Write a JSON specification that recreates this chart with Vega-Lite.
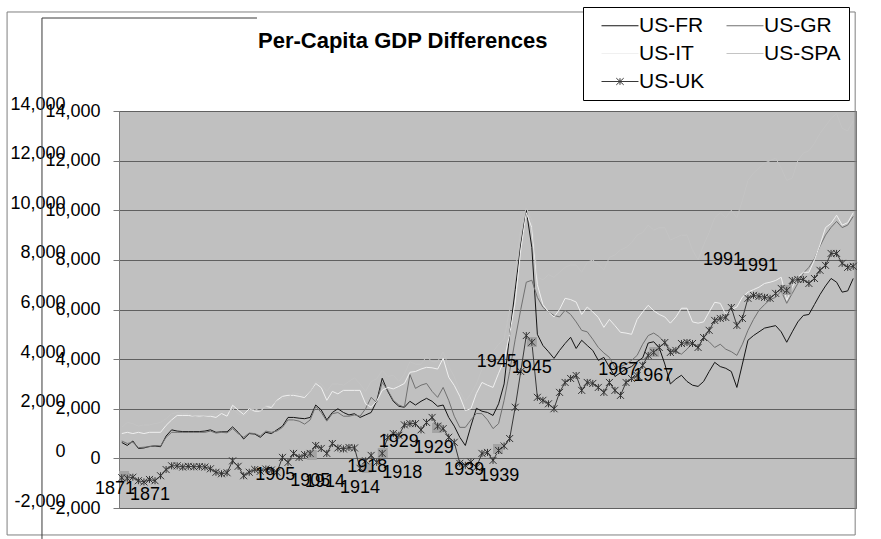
{
"$schema": "https://vega.github.io/schema/vega-lite/v6.json",
"width": 737, "height": 397,
"autosize": {"type": "none"},
"padding": {"left": 119, "top": 111, "right": 25, "bottom": 31},
"background": "white",
"config": {"view": {"fill": "#c0c0c0", "stroke": "#7a7a7a", "strokeWidth": 1}, "font": "Liberation Sans"},
"title": {"text": "Per-Capita GDP Differences", "anchor": "start", "frame": "group", "dx": 139, "dy": 63, "offset": 0, "baseline": "alphabetic", "fontSize": 22, "fontWeight": "bold", "font": "Liberation Sans", "color": "black"},
"datasets": {
"gdp": [
{"year":1871,"series":"US-FR","value":640},{"year":1871,"series":"US-GR","value":700},{"year":1871,"series":"US-IT","value":1000},{"year":1871,"series":"US-SPA","value":1250},{"year":1871,"series":"US-UK","value":-780},
{"year":1872,"series":"US-FR","value":520},{"year":1872,"series":"US-GR","value":600},{"year":1872,"series":"US-IT","value":1050},{"year":1872,"series":"US-SPA","value":1450},{"year":1872,"series":"US-UK","value":-800},
{"year":1873,"series":"US-FR","value":700},{"year":1873,"series":"US-GR","value":650},{"year":1873,"series":"US-IT","value":1000},{"year":1873,"series":"US-SPA","value":1400},{"year":1873,"series":"US-UK","value":-760},
{"year":1874,"series":"US-FR","value":400},{"year":1874,"series":"US-GR","value":430},{"year":1874,"series":"US-IT","value":1050},{"year":1874,"series":"US-SPA","value":1300},{"year":1874,"series":"US-UK","value":-900},
{"year":1875,"series":"US-FR","value":420},{"year":1875,"series":"US-GR","value":450},{"year":1875,"series":"US-IT","value":1000},{"year":1875,"series":"US-SPA","value":1350},{"year":1875,"series":"US-UK","value":-950},
{"year":1876,"series":"US-FR","value":480},{"year":1876,"series":"US-GR","value":470},{"year":1876,"series":"US-IT","value":1050},{"year":1876,"series":"US-SPA","value":1350},{"year":1876,"series":"US-UK","value":-850},
{"year":1877,"series":"US-FR","value":500},{"year":1877,"series":"US-GR","value":520},{"year":1877,"series":"US-IT","value":1050},{"year":1877,"series":"US-SPA","value":1400},{"year":1877,"series":"US-UK","value":-900},
{"year":1878,"series":"US-FR","value":470},{"year":1878,"series":"US-GR","value":500},{"year":1878,"series":"US-IT","value":1050},{"year":1878,"series":"US-SPA","value":1450},{"year":1878,"series":"US-UK","value":-700},
{"year":1879,"series":"US-FR","value":900},{"year":1879,"series":"US-GR","value":850},{"year":1879,"series":"US-IT","value":1330},{"year":1879,"series":"US-SPA","value":1600},{"year":1879,"series":"US-UK","value":-450},
{"year":1880,"series":"US-FR","value":1150},{"year":1880,"series":"US-GR","value":1050},{"year":1880,"series":"US-IT","value":1550},{"year":1880,"series":"US-SPA","value":1800},{"year":1880,"series":"US-UK","value":-300},
{"year":1881,"series":"US-FR","value":1100},{"year":1881,"series":"US-GR","value":1050},{"year":1881,"series":"US-IT","value":1730},{"year":1881,"series":"US-SPA","value":1850},{"year":1881,"series":"US-UK","value":-300},
{"year":1882,"series":"US-FR","value":1080},{"year":1882,"series":"US-GR","value":1050},{"year":1882,"series":"US-IT","value":1730},{"year":1882,"series":"US-SPA","value":1800},{"year":1882,"series":"US-UK","value":-350},
{"year":1883,"series":"US-FR","value":1080},{"year":1883,"series":"US-GR","value":1050},{"year":1883,"series":"US-IT","value":1730},{"year":1883,"series":"US-SPA","value":1800},{"year":1883,"series":"US-UK","value":-320},
{"year":1884,"series":"US-FR","value":1080},{"year":1884,"series":"US-GR","value":1050},{"year":1884,"series":"US-IT","value":1700},{"year":1884,"series":"US-SPA","value":1700},{"year":1884,"series":"US-UK","value":-340},
{"year":1885,"series":"US-FR","value":1080},{"year":1885,"series":"US-GR","value":1050},{"year":1885,"series":"US-IT","value":1700},{"year":1885,"series":"US-SPA","value":1650},{"year":1885,"series":"US-UK","value":-330},
{"year":1886,"series":"US-FR","value":1100},{"year":1886,"series":"US-GR","value":1050},{"year":1886,"series":"US-IT","value":1700},{"year":1886,"series":"US-SPA","value":1700},{"year":1886,"series":"US-UK","value":-350},
{"year":1887,"series":"US-FR","value":1150},{"year":1887,"series":"US-GR","value":1100},{"year":1887,"series":"US-IT","value":1700},{"year":1887,"series":"US-SPA","value":1750},{"year":1887,"series":"US-UK","value":-420},
{"year":1888,"series":"US-FR","value":1050},{"year":1888,"series":"US-GR","value":1020},{"year":1888,"series":"US-IT","value":1650},{"year":1888,"series":"US-SPA","value":1800},{"year":1888,"series":"US-UK","value":-560},
{"year":1889,"series":"US-FR","value":1070},{"year":1889,"series":"US-GR","value":1050},{"year":1889,"series":"US-IT","value":1810},{"year":1889,"series":"US-SPA","value":1900},{"year":1889,"series":"US-UK","value":-620},
{"year":1890,"series":"US-FR","value":1070},{"year":1890,"series":"US-GR","value":1030},{"year":1890,"series":"US-IT","value":1700},{"year":1890,"series":"US-SPA","value":1850},{"year":1890,"series":"US-UK","value":-580},
{"year":1891,"series":"US-FR","value":1270},{"year":1891,"series":"US-GR","value":1200},{"year":1891,"series":"US-IT","value":2140},{"year":1891,"series":"US-SPA","value":2000},{"year":1891,"series":"US-UK","value":-100},
{"year":1892,"series":"US-FR","value":1050},{"year":1892,"series":"US-GR","value":1000},{"year":1892,"series":"US-IT","value":1950},{"year":1892,"series":"US-SPA","value":1800},{"year":1892,"series":"US-UK","value":-320},
{"year":1893,"series":"US-FR","value":780},{"year":1893,"series":"US-GR","value":850},{"year":1893,"series":"US-IT","value":1770},{"year":1893,"series":"US-SPA","value":1700},{"year":1893,"series":"US-UK","value":-700},
{"year":1894,"series":"US-FR","value":1000},{"year":1894,"series":"US-GR","value":1020},{"year":1894,"series":"US-IT","value":2000},{"year":1894,"series":"US-SPA","value":1900},{"year":1894,"series":"US-UK","value":-560},
{"year":1895,"series":"US-FR","value":980},{"year":1895,"series":"US-GR","value":1000},{"year":1895,"series":"US-IT","value":1900},{"year":1895,"series":"US-SPA","value":2000},{"year":1895,"series":"US-UK","value":-450},
{"year":1896,"series":"US-FR","value":850},{"year":1896,"series":"US-GR","value":900},{"year":1896,"series":"US-IT","value":1900},{"year":1896,"series":"US-SPA","value":1900},{"year":1896,"series":"US-UK","value":-520},
{"year":1897,"series":"US-FR","value":1050},{"year":1897,"series":"US-GR","value":1100},{"year":1897,"series":"US-IT","value":2100},{"year":1897,"series":"US-SPA","value":2100},{"year":1897,"series":"US-UK","value":-430},
{"year":1898,"series":"US-FR","value":1000},{"year":1898,"series":"US-GR","value":1050},{"year":1898,"series":"US-IT","value":2050},{"year":1898,"series":"US-SPA","value":2150},{"year":1898,"series":"US-UK","value":-470},
{"year":1899,"series":"US-FR","value":1150},{"year":1899,"series":"US-GR","value":1100},{"year":1899,"series":"US-IT","value":2340},{"year":1899,"series":"US-SPA","value":2300},{"year":1899,"series":"US-UK","value":-560},
{"year":1900,"series":"US-FR","value":1300},{"year":1900,"series":"US-GR","value":1250},{"year":1900,"series":"US-IT","value":2500},{"year":1900,"series":"US-SPA","value":2400},{"year":1900,"series":"US-UK","value":40},
{"year":1901,"series":"US-FR","value":1650},{"year":1901,"series":"US-GR","value":1550},{"year":1901,"series":"US-IT","value":2540},{"year":1901,"series":"US-SPA","value":2450},{"year":1901,"series":"US-UK","value":-160},
{"year":1902,"series":"US-FR","value":1650},{"year":1902,"series":"US-GR","value":1550},{"year":1902,"series":"US-IT","value":2540},{"year":1902,"series":"US-SPA","value":2650},{"year":1902,"series":"US-UK","value":200},
{"year":1903,"series":"US-FR","value":1620},{"year":1903,"series":"US-GR","value":1500},{"year":1903,"series":"US-IT","value":2500},{"year":1903,"series":"US-SPA","value":2600},{"year":1903,"series":"US-UK","value":40},
{"year":1904,"series":"US-FR","value":1600},{"year":1904,"series":"US-GR","value":1380},{"year":1904,"series":"US-IT","value":2450},{"year":1904,"series":"US-SPA","value":2500},{"year":1904,"series":"US-UK","value":150},
{"year":1905,"series":"US-FR","value":1650},{"year":1905,"series":"US-GR","value":1550},{"year":1905,"series":"US-IT","value":2700},{"year":1905,"series":"US-SPA","value":2700},{"year":1905,"series":"US-UK","value":200},
{"year":1906,"series":"US-FR","value":2150},{"year":1906,"series":"US-GR","value":2100},{"year":1906,"series":"US-IT","value":3020},{"year":1906,"series":"US-SPA","value":3100},{"year":1906,"series":"US-UK","value":520},
{"year":1907,"series":"US-FR","value":1950},{"year":1907,"series":"US-GR","value":1850},{"year":1907,"series":"US-IT","value":2850},{"year":1907,"series":"US-SPA","value":3000},{"year":1907,"series":"US-UK","value":400},
{"year":1908,"series":"US-FR","value":1550},{"year":1908,"series":"US-GR","value":1500},{"year":1908,"series":"US-IT","value":2340},{"year":1908,"series":"US-SPA","value":2700},{"year":1908,"series":"US-UK","value":200},
{"year":1909,"series":"US-FR","value":1850},{"year":1909,"series":"US-GR","value":1800},{"year":1909,"series":"US-IT","value":2700},{"year":1909,"series":"US-SPA","value":3000},{"year":1909,"series":"US-UK","value":600},
{"year":1910,"series":"US-FR","value":2000},{"year":1910,"series":"US-GR","value":1850},{"year":1910,"series":"US-IT","value":2600},{"year":1910,"series":"US-SPA","value":3000},{"year":1910,"series":"US-UK","value":420},
{"year":1911,"series":"US-FR","value":1850},{"year":1911,"series":"US-GR","value":1700},{"year":1911,"series":"US-IT","value":2740},{"year":1911,"series":"US-SPA","value":2950},{"year":1911,"series":"US-UK","value":380},
{"year":1912,"series":"US-FR","value":1750},{"year":1912,"series":"US-GR","value":1700},{"year":1912,"series":"US-IT","value":2740},{"year":1912,"series":"US-SPA","value":3100},{"year":1912,"series":"US-UK","value":440},
{"year":1913,"series":"US-FR","value":1800},{"year":1913,"series":"US-GR","value":1750},{"year":1913,"series":"US-IT","value":2740},{"year":1913,"series":"US-SPA","value":3250},{"year":1913,"series":"US-UK","value":420},
{"year":1914,"series":"US-FR","value":1650},{"year":1914,"series":"US-GR","value":1700},{"year":1914,"series":"US-IT","value":2740},{"year":1914,"series":"US-SPA","value":3000},{"year":1914,"series":"US-UK","value":-400},
{"year":1915,"series":"US-FR","value":1750},{"year":1915,"series":"US-GR","value":2000},{"year":1915,"series":"US-IT","value":2200},{"year":1915,"series":"US-SPA","value":2700},{"year":1915,"series":"US-UK","value":-100},
{"year":1916,"series":"US-FR","value":1850},{"year":1916,"series":"US-GR","value":2460},{"year":1916,"series":"US-IT","value":2060},{"year":1916,"series":"US-SPA","value":3100},{"year":1916,"series":"US-UK","value":120},
{"year":1917,"series":"US-FR","value":2300},{"year":1917,"series":"US-GR","value":2250},{"year":1917,"series":"US-IT","value":2300},{"year":1917,"series":"US-SPA","value":3200},{"year":1917,"series":"US-UK","value":-160},
{"year":1918,"series":"US-FR","value":3230},{"year":1918,"series":"US-GR","value":3060},{"year":1918,"series":"US-IT","value":2740},{"year":1918,"series":"US-SPA","value":3550},{"year":1918,"series":"US-UK","value":200},
{"year":1919,"series":"US-FR","value":2700},{"year":1919,"series":"US-GR","value":2750},{"year":1919,"series":"US-IT","value":2860},{"year":1919,"series":"US-SPA","value":3300},{"year":1919,"series":"US-UK","value":850},
{"year":1920,"series":"US-FR","value":2300},{"year":1920,"series":"US-GR","value":2340},{"year":1920,"series":"US-IT","value":2800},{"year":1920,"series":"US-SPA","value":3350},{"year":1920,"series":"US-UK","value":1000},
{"year":1921,"series":"US-FR","value":2100},{"year":1921,"series":"US-GR","value":2150},{"year":1921,"series":"US-IT","value":2900},{"year":1921,"series":"US-SPA","value":3100},{"year":1921,"series":"US-UK","value":930},
{"year":1922,"series":"US-FR","value":2060},{"year":1922,"series":"US-GR","value":2060},{"year":1922,"series":"US-IT","value":3020},{"year":1922,"series":"US-SPA","value":3400},{"year":1922,"series":"US-UK","value":1350},
{"year":1923,"series":"US-FR","value":2300},{"year":1923,"series":"US-GR","value":3380},{"year":1923,"series":"US-IT","value":3470},{"year":1923,"series":"US-SPA","value":3900},{"year":1923,"series":"US-UK","value":1400},
{"year":1924,"series":"US-FR","value":2150},{"year":1924,"series":"US-GR","value":2820},{"year":1924,"series":"US-IT","value":3500},{"year":1924,"series":"US-SPA","value":3800},{"year":1924,"series":"US-UK","value":1400},
{"year":1925,"series":"US-FR","value":2300},{"year":1925,"series":"US-GR","value":2950},{"year":1925,"series":"US-IT","value":3600},{"year":1925,"series":"US-SPA","value":3800},{"year":1925,"series":"US-UK","value":1150},
{"year":1926,"series":"US-FR","value":2420},{"year":1926,"series":"US-GR","value":3020},{"year":1926,"series":"US-IT","value":3670},{"year":1926,"series":"US-SPA","value":4100},{"year":1926,"series":"US-UK","value":1450},
{"year":1927,"series":"US-FR","value":2300},{"year":1927,"series":"US-GR","value":2700},{"year":1927,"series":"US-IT","value":3650},{"year":1927,"series":"US-SPA","value":3900},{"year":1927,"series":"US-UK","value":1650},
{"year":1928,"series":"US-FR","value":2100},{"year":1928,"series":"US-GR","value":2460},{"year":1928,"series":"US-IT","value":3600},{"year":1928,"series":"US-SPA","value":3900},{"year":1928,"series":"US-UK","value":1300},
{"year":1929,"series":"US-FR","value":2150},{"year":1929,"series":"US-GR","value":2860},{"year":1929,"series":"US-IT","value":4030},{"year":1929,"series":"US-SPA","value":4300},{"year":1929,"series":"US-UK","value":1200},
{"year":1930,"series":"US-FR","value":1650},{"year":1930,"series":"US-GR","value":2340},{"year":1930,"series":"US-IT","value":3270},{"year":1930,"series":"US-SPA","value":3700},{"year":1930,"series":"US-UK","value":850},
{"year":1931,"series":"US-FR","value":1300},{"year":1931,"series":"US-GR","value":1700},{"year":1931,"series":"US-IT","value":2940},{"year":1931,"series":"US-SPA","value":3300},{"year":1931,"series":"US-UK","value":650},
{"year":1932,"series":"US-FR","value":850},{"year":1932,"series":"US-GR","value":1250},{"year":1932,"series":"US-IT","value":2500},{"year":1932,"series":"US-SPA","value":2700},{"year":1932,"series":"US-UK","value":-200},
{"year":1933,"series":"US-FR","value":520},{"year":1933,"series":"US-GR","value":1250},{"year":1933,"series":"US-IT","value":1930},{"year":1933,"series":"US-SPA","value":2300},{"year":1933,"series":"US-UK","value":-280},
{"year":1934,"series":"US-FR","value":1300},{"year":1934,"series":"US-GR","value":1550},{"year":1934,"series":"US-IT","value":2000},{"year":1934,"series":"US-SPA","value":2600},{"year":1934,"series":"US-UK","value":-150},
{"year":1935,"series":"US-FR","value":2020},{"year":1935,"series":"US-GR","value":1810},{"year":1935,"series":"US-IT","value":2620},{"year":1935,"series":"US-SPA","value":3000},{"year":1935,"series":"US-UK","value":-360},
{"year":1936,"series":"US-FR","value":1900},{"year":1936,"series":"US-GR","value":1800},{"year":1936,"series":"US-IT","value":3060},{"year":1936,"series":"US-SPA","value":3600},{"year":1936,"series":"US-UK","value":200},
{"year":1937,"series":"US-FR","value":1850},{"year":1937,"series":"US-GR","value":1550},{"year":1937,"series":"US-IT","value":2950},{"year":1937,"series":"US-SPA","value":4200},{"year":1937,"series":"US-UK","value":240},
{"year":1938,"series":"US-FR","value":1730},{"year":1938,"series":"US-GR","value":1200},{"year":1938,"series":"US-IT","value":2860},{"year":1938,"series":"US-SPA","value":4300},{"year":1938,"series":"US-UK","value":-80},
{"year":1939,"series":"US-FR","value":2200},{"year":1939,"series":"US-GR","value":1400},{"year":1939,"series":"US-IT","value":3430},{"year":1939,"series":"US-SPA","value":4600},{"year":1939,"series":"US-UK","value":320},
{"year":1940,"series":"US-FR","value":3000},{"year":1940,"series":"US-GR","value":2340},{"year":1940,"series":"US-IT","value":3950},{"year":1940,"series":"US-SPA","value":4800},{"year":1940,"series":"US-UK","value":500},
{"year":1941,"series":"US-FR","value":5000},{"year":1941,"series":"US-GR","value":3500},{"year":1941,"series":"US-IT","value":5000},{"year":1941,"series":"US-SPA","value":6000},{"year":1941,"series":"US-UK","value":800},
{"year":1942,"series":"US-FR","value":6800},{"year":1942,"series":"US-GR","value":4800},{"year":1942,"series":"US-IT","value":6300},{"year":1942,"series":"US-SPA","value":7500},{"year":1942,"series":"US-UK","value":2060},
{"year":1943,"series":"US-FR","value":8600},{"year":1943,"series":"US-GR","value":6000},{"year":1943,"series":"US-IT","value":8400},{"year":1943,"series":"US-SPA","value":9200},{"year":1943,"series":"US-UK","value":3500},
{"year":1944,"series":"US-FR","value":10000},{"year":1944,"series":"US-GR","value":7100},{"year":1944,"series":"US-IT","value":9900},{"year":1944,"series":"US-SPA","value":10100},{"year":1944,"series":"US-UK","value":4950},
{"year":1945,"series":"US-FR","value":8500},{"year":1945,"series":"US-GR","value":7180},{"year":1945,"series":"US-IT","value":9300},{"year":1945,"series":"US-SPA","value":9600},{"year":1945,"series":"US-UK","value":4680},
{"year":1946,"series":"US-FR","value":5000},{"year":1946,"series":"US-GR","value":6490},{"year":1946,"series":"US-IT","value":7000},{"year":1946,"series":"US-SPA","value":7300},{"year":1946,"series":"US-UK","value":2460},
{"year":1947,"series":"US-FR","value":4550},{"year":1947,"series":"US-GR","value":6090},{"year":1947,"series":"US-IT","value":6200},{"year":1947,"series":"US-SPA","value":7200},{"year":1947,"series":"US-UK","value":2340},
{"year":1948,"series":"US-FR","value":4300},{"year":1948,"series":"US-GR","value":5900},{"year":1948,"series":"US-IT","value":5900},{"year":1948,"series":"US-SPA","value":7400},{"year":1948,"series":"US-UK","value":2200},
{"year":1949,"series":"US-FR","value":4030},{"year":1949,"series":"US-GR","value":5760},{"year":1949,"series":"US-IT","value":5700},{"year":1949,"series":"US-SPA","value":7300},{"year":1949,"series":"US-UK","value":2000},
{"year":1950,"series":"US-FR","value":4350},{"year":1950,"series":"US-GR","value":5700},{"year":1950,"series":"US-IT","value":6000},{"year":1950,"series":"US-SPA","value":7500},{"year":1950,"series":"US-UK","value":2660},
{"year":1951,"series":"US-FR","value":4630},{"year":1951,"series":"US-GR","value":5970},{"year":1951,"series":"US-IT","value":6450},{"year":1951,"series":"US-SPA","value":7700},{"year":1951,"series":"US-UK","value":3060},
{"year":1952,"series":"US-FR","value":4880},{"year":1952,"series":"US-GR","value":5800},{"year":1952,"series":"US-IT","value":6400},{"year":1952,"series":"US-SPA","value":7800},{"year":1952,"series":"US-UK","value":3220},
{"year":1953,"series":"US-FR","value":4430},{"year":1953,"series":"US-GR","value":5500},{"year":1953,"series":"US-IT","value":6300},{"year":1953,"series":"US-SPA","value":7800},{"year":1953,"series":"US-UK","value":3340},
{"year":1954,"series":"US-FR","value":4760},{"year":1954,"series":"US-GR","value":5160},{"year":1954,"series":"US-IT","value":5800},{"year":1954,"series":"US-SPA","value":7500},{"year":1954,"series":"US-UK","value":2740},
{"year":1955,"series":"US-FR","value":4550},{"year":1955,"series":"US-GR","value":5100},{"year":1955,"series":"US-IT","value":6100},{"year":1955,"series":"US-SPA","value":7900},{"year":1955,"series":"US-UK","value":3060},
{"year":1956,"series":"US-FR","value":4350},{"year":1956,"series":"US-GR","value":4800},{"year":1956,"series":"US-IT","value":5900},{"year":1956,"series":"US-SPA","value":8000},{"year":1956,"series":"US-UK","value":3020},
{"year":1957,"series":"US-FR","value":3950},{"year":1957,"series":"US-GR","value":4470},{"year":1957,"series":"US-IT","value":5680},{"year":1957,"series":"US-SPA","value":7800},{"year":1957,"series":"US-UK","value":2860},
{"year":1958,"series":"US-FR","value":4070},{"year":1958,"series":"US-GR","value":4250},{"year":1958,"series":"US-IT","value":5280},{"year":1958,"series":"US-SPA","value":7600},{"year":1958,"series":"US-UK","value":2660},
{"year":1959,"series":"US-FR","value":3670},{"year":1959,"series":"US-GR","value":4070},{"year":1959,"series":"US-IT","value":5600},{"year":1959,"series":"US-SPA","value":8100},{"year":1959,"series":"US-UK","value":3060},
{"year":1960,"series":"US-FR","value":3300},{"year":1960,"series":"US-GR","value":3670},{"year":1960,"series":"US-IT","value":5350},{"year":1960,"series":"US-SPA","value":8200},{"year":1960,"series":"US-UK","value":2740},
{"year":1961,"series":"US-FR","value":3450},{"year":1961,"series":"US-GR","value":3700},{"year":1961,"series":"US-IT","value":5080},{"year":1961,"series":"US-SPA","value":8400},{"year":1961,"series":"US-UK","value":2540},
{"year":1962,"series":"US-FR","value":3600},{"year":1962,"series":"US-GR","value":3800},{"year":1962,"series":"US-IT","value":5050},{"year":1962,"series":"US-SPA","value":8500},{"year":1962,"series":"US-UK","value":3060},
{"year":1963,"series":"US-FR","value":3700},{"year":1963,"series":"US-GR","value":3950},{"year":1963,"series":"US-IT","value":5000},{"year":1963,"series":"US-SPA","value":8700},{"year":1963,"series":"US-UK","value":3220},
{"year":1964,"series":"US-FR","value":3900},{"year":1964,"series":"US-GR","value":4150},{"year":1964,"series":"US-IT","value":5600},{"year":1964,"series":"US-SPA","value":9000},{"year":1964,"series":"US-UK","value":3340},
{"year":1965,"series":"US-FR","value":4050},{"year":1965,"series":"US-GR","value":4600},{"year":1965,"series":"US-IT","value":5900},{"year":1965,"series":"US-SPA","value":9100},{"year":1965,"series":"US-UK","value":3750},
{"year":1966,"series":"US-FR","value":4650},{"year":1966,"series":"US-GR","value":4950},{"year":1966,"series":"US-IT","value":6170},{"year":1966,"series":"US-SPA","value":9400},{"year":1966,"series":"US-UK","value":4150},
{"year":1967,"series":"US-FR","value":4700},{"year":1967,"series":"US-GR","value":5050},{"year":1967,"series":"US-IT","value":5950},{"year":1967,"series":"US-SPA","value":9200},{"year":1967,"series":"US-UK","value":4270},
{"year":1968,"series":"US-FR","value":4450},{"year":1968,"series":"US-GR","value":4900},{"year":1968,"series":"US-IT","value":5800},{"year":1968,"series":"US-SPA","value":9300},{"year":1968,"series":"US-UK","value":4470},
{"year":1969,"series":"US-FR","value":3800},{"year":1969,"series":"US-GR","value":4650},{"year":1969,"series":"US-IT","value":5700},{"year":1969,"series":"US-SPA","value":9300},{"year":1969,"series":"US-UK","value":4670},
{"year":1970,"series":"US-FR","value":3000},{"year":1970,"series":"US-GR","value":4400},{"year":1970,"series":"US-IT","value":5450},{"year":1970,"series":"US-SPA","value":8800},{"year":1970,"series":"US-UK","value":4270},
{"year":1971,"series":"US-FR","value":3200},{"year":1971,"series":"US-GR","value":4300},{"year":1971,"series":"US-IT","value":5700},{"year":1971,"series":"US-SPA","value":8900},{"year":1971,"series":"US-UK","value":4350},
{"year":1972,"series":"US-FR","value":3350},{"year":1972,"series":"US-GR","value":4200},{"year":1972,"series":"US-IT","value":6050},{"year":1972,"series":"US-SPA","value":9000},{"year":1972,"series":"US-UK","value":4630},
{"year":1973,"series":"US-FR","value":3100},{"year":1973,"series":"US-GR","value":4400},{"year":1973,"series":"US-IT","value":6050},{"year":1973,"series":"US-SPA","value":9000},{"year":1973,"series":"US-UK","value":4670},
{"year":1974,"series":"US-FR","value":2950},{"year":1974,"series":"US-GR","value":4650},{"year":1974,"series":"US-IT","value":5500},{"year":1974,"series":"US-SPA","value":8400},{"year":1974,"series":"US-UK","value":4630},
{"year":1975,"series":"US-FR","value":2900},{"year":1975,"series":"US-GR","value":4450},{"year":1975,"series":"US-IT","value":5450},{"year":1975,"series":"US-SPA","value":8000},{"year":1975,"series":"US-UK","value":4470},
{"year":1976,"series":"US-FR","value":3100},{"year":1976,"series":"US-GR","value":4880},{"year":1976,"series":"US-IT","value":5500},{"year":1976,"series":"US-SPA","value":8600},{"year":1976,"series":"US-UK","value":4870},
{"year":1977,"series":"US-FR","value":3500},{"year":1977,"series":"US-GR","value":4700},{"year":1977,"series":"US-IT","value":5900},{"year":1977,"series":"US-SPA","value":9100},{"year":1977,"series":"US-UK","value":5160},
{"year":1978,"series":"US-FR","value":3870},{"year":1978,"series":"US-GR","value":4470},{"year":1978,"series":"US-IT","value":6290},{"year":1978,"series":"US-SPA","value":9700},{"year":1978,"series":"US-UK","value":5560},
{"year":1979,"series":"US-FR","value":3700},{"year":1979,"series":"US-GR","value":4600},{"year":1979,"series":"US-IT","value":6250},{"year":1979,"series":"US-SPA","value":9900},{"year":1979,"series":"US-UK","value":5640},
{"year":1980,"series":"US-FR","value":3630},{"year":1980,"series":"US-GR","value":4400},{"year":1980,"series":"US-IT","value":5800},{"year":1980,"series":"US-SPA","value":9700},{"year":1980,"series":"US-UK","value":5680},
{"year":1981,"series":"US-FR","value":3500},{"year":1981,"series":"US-GR","value":4300},{"year":1981,"series":"US-IT","value":6000},{"year":1981,"series":"US-SPA","value":10000},{"year":1981,"series":"US-UK","value":6080},
{"year":1982,"series":"US-FR","value":2860},{"year":1982,"series":"US-GR","value":4150},{"year":1982,"series":"US-IT","value":6100},{"year":1982,"series":"US-SPA","value":9700},{"year":1982,"series":"US-UK","value":5360},
{"year":1983,"series":"US-FR","value":3800},{"year":1983,"series":"US-GR","value":4600},{"year":1983,"series":"US-IT","value":6500},{"year":1983,"series":"US-SPA","value":10400},{"year":1983,"series":"US-UK","value":5640},
{"year":1984,"series":"US-FR","value":4760},{"year":1984,"series":"US-GR","value":5160},{"year":1984,"series":"US-IT","value":6700},{"year":1984,"series":"US-SPA","value":11200},{"year":1984,"series":"US-UK","value":6450},
{"year":1985,"series":"US-FR","value":4950},{"year":1985,"series":"US-GR","value":5600},{"year":1985,"series":"US-IT","value":6800},{"year":1985,"series":"US-SPA","value":11500},{"year":1985,"series":"US-UK","value":6570},
{"year":1986,"series":"US-FR","value":5100},{"year":1986,"series":"US-GR","value":5970},{"year":1986,"series":"US-IT","value":6900},{"year":1986,"series":"US-SPA","value":11700},{"year":1986,"series":"US-UK","value":6530},
{"year":1987,"series":"US-FR","value":5250},{"year":1987,"series":"US-GR","value":6200},{"year":1987,"series":"US-IT","value":7050},{"year":1987,"series":"US-SPA","value":11900},{"year":1987,"series":"US-UK","value":6490},
{"year":1988,"series":"US-FR","value":5300},{"year":1988,"series":"US-GR","value":6400},{"year":1988,"series":"US-IT","value":7100},{"year":1988,"series":"US-SPA","value":12000},{"year":1988,"series":"US-UK","value":6450},
{"year":1989,"series":"US-FR","value":5350},{"year":1989,"series":"US-GR","value":6490},{"year":1989,"series":"US-IT","value":7170},{"year":1989,"series":"US-SPA","value":12100},{"year":1989,"series":"US-UK","value":6650},
{"year":1990,"series":"US-FR","value":5100},{"year":1990,"series":"US-GR","value":6750},{"year":1990,"series":"US-IT","value":7300},{"year":1990,"series":"US-SPA","value":11700},{"year":1990,"series":"US-UK","value":6850},
{"year":1991,"series":"US-FR","value":4680},{"year":1991,"series":"US-GR","value":6250},{"year":1991,"series":"US-IT","value":6370},{"year":1991,"series":"US-SPA","value":11200},{"year":1991,"series":"US-UK","value":6770},
{"year":1992,"series":"US-FR","value":5100},{"year":1992,"series":"US-GR","value":6650},{"year":1992,"series":"US-IT","value":6900},{"year":1992,"series":"US-SPA","value":11300},{"year":1992,"series":"US-UK","value":7170},
{"year":1993,"series":"US-FR","value":5500},{"year":1993,"series":"US-GR","value":7050},{"year":1993,"series":"US-IT","value":7300},{"year":1993,"series":"US-SPA","value":12000},{"year":1993,"series":"US-UK","value":7210},
{"year":1994,"series":"US-FR","value":5760},{"year":1994,"series":"US-GR","value":7460},{"year":1994,"series":"US-IT","value":7500},{"year":1994,"series":"US-SPA","value":12300},{"year":1994,"series":"US-UK","value":7210},
{"year":1995,"series":"US-FR","value":5800},{"year":1995,"series":"US-GR","value":7700},{"year":1995,"series":"US-IT","value":7500},{"year":1995,"series":"US-SPA","value":12400},{"year":1995,"series":"US-UK","value":7050},
{"year":1996,"series":"US-FR","value":6200},{"year":1996,"series":"US-GR","value":8050},{"year":1996,"series":"US-IT","value":8000},{"year":1996,"series":"US-SPA","value":12700},{"year":1996,"series":"US-UK","value":7250},
{"year":1997,"series":"US-FR","value":6600},{"year":1997,"series":"US-GR","value":8550},{"year":1997,"series":"US-IT","value":8600},{"year":1997,"series":"US-SPA","value":13100},{"year":1997,"series":"US-UK","value":7580},
{"year":1998,"series":"US-FR","value":6950},{"year":1998,"series":"US-GR","value":9000},{"year":1998,"series":"US-IT","value":9300},{"year":1998,"series":"US-SPA","value":13400},{"year":1998,"series":"US-UK","value":7780},
{"year":1999,"series":"US-FR","value":7250},{"year":1999,"series":"US-GR","value":9310},{"year":1999,"series":"US-IT","value":9470},{"year":1999,"series":"US-SPA","value":13700},{"year":1999,"series":"US-UK","value":8260},
{"year":2000,"series":"US-FR","value":7100},{"year":2000,"series":"US-GR","value":9550},{"year":2000,"series":"US-IT","value":9800},{"year":2000,"series":"US-SPA","value":13900},{"year":2000,"series":"US-UK","value":8260},
{"year":2001,"series":"US-FR","value":6700},{"year":2001,"series":"US-GR","value":9300},{"year":2001,"series":"US-IT","value":9400},{"year":2001,"series":"US-SPA","value":13300},{"year":2001,"series":"US-UK","value":7860},
{"year":2002,"series":"US-FR","value":6750},{"year":2002,"series":"US-GR","value":9400},{"year":2002,"series":"US-IT","value":9500},{"year":2002,"series":"US-SPA","value":13200},{"year":2002,"series":"US-UK","value":7700},
{"year":2003,"series":"US-FR","value":7250},{"year":2003,"series":"US-GR","value":9750},{"year":2003,"series":"US-IT","value":9900},{"year":2003,"series":"US-SPA","value":13600},{"year":2003,"series":"US-UK","value":7740}
],
"notes": [
{"label":"1871","sqYear":1871.4,"sqValue":-709,"labYear":1876.1,"labValue":-1475},
{"label":"1905","sqYear":1905.3,"sqValue":137,"labYear":1905.0,"labValue":-911},
{"label":"1914","sqYear":1915.2,"sqValue":-387,"labYear":1914.0,"labValue":-1193},
{"label":"1918","sqYear":1918.1,"sqValue":218,"labYear":1921.6,"labValue":-588},
{"label":"1929","sqYear":1927.9,"sqValue":1225,"labYear":1927.3,"labValue":419},
{"label":"1939","sqYear":1938.9,"sqValue":379,"labYear":1939.1,"labValue":-709},
{"label":"1945","sqYear":1945.0,"sqValue":4691,"labYear":1945.0,"labValue":3643},
{"label":"1967","sqYear":1967.1,"sqValue":4288,"labYear":1966.9,"labValue":3321},
{"label":"1991","sqYear":1991.0,"sqValue":6786,"labYear":1985.8,"labValue":7754}
]
},
"layer": [
{
"data": {"values": [{}]},
"mark": {"type": "rect", "filled": false, "stroke": "#7f7f7f", "strokeWidth": 1},
"encoding": {
"x": {"datum": 1850.3, "type": "quantitative", "scale": {"domain": [1870.5, 2003.5], "nice": false, "zero": false}, "axis": null},
"x2": {"datum": 2003.35},
"y": {"datum": 17990, "type": "quantitative", "scale": {"domain": [-2000, 14000], "nice": false, "zero": false}, "axis": null},
"y2": {"datum": -3087}
}
},
{
"data": {"values": [{}]},
"mark": {"type": "rule", "stroke": "#3a3a3a", "strokeWidth": 1},
"encoding": {
"x": {"datum": 1856.6, "type": "quantitative", "scale": {"domain": [1870.5, 2003.5], "nice": false, "zero": false}, "axis": null},
"y": {"datum": 17748, "type": "quantitative", "scale": {"domain": [-2000, 14000], "nice": false, "zero": false}, "axis": null},
"y2": {"datum": -3248}
}
},
{
"data": {"values": [{}]},
"mark": {"type": "rule", "stroke": "#3a3a3a", "strokeWidth": 1},
"encoding": {
"x": {"datum": 1856.6, "type": "quantitative", "scale": {"domain": [1870.5, 2003.5], "nice": false, "zero": false}, "axis": null},
"x2": {"datum": 1895.4},
"y": {"datum": 17748, "type": "quantitative", "scale": {"domain": [-2000, 14000], "nice": false, "zero": false}, "axis": null}
}
},
{
"data": {"name": "gdp"},
"mark": {"type": "line", "strokeWidth": 1},
"encoding": {
"x": {"field": "year", "type": "quantitative", "scale": {"domain": [1870.5, 2003.5], "nice": false, "zero": false}, "axis": null},
"y": {"field": "value", "type": "quantitative", "scale": {"domain": [-2000, 14000], "nice": false, "zero": false},
"axis": {"orient": "left", "title": null, "values": [-2000, 0, 2000, 4000, 6000, 8000, 10000, 12000, 14000], "grid": true, "gridColor": "#606060", "gridWidth": 1, "domain": true, "domainColor": "#7a7a7a", "ticks": true, "tickSize": 6, "tickColor": "#7a7a7a", "labelPadding": 13, "labelFont": "Liberation Sans", "labelFontSize": 18, "labelColor": "black", "labelExpr": "datum.value < 0 ? '-' + format(-datum.value, ',') : format(datum.value, ',')"}},
"color": {"field": "series", "type": "nominal",
"scale": {"domain": ["US-FR", "US-GR", "US-IT", "US-SPA", "US-UK"], "range": ["#141414", "#707070", "#f0f0f0", "#c4c4c4", "#383838"]},
"legend": {"orient": "none", "direction": "horizontal", "legendX": 464, "legendY": -104, "title": null, "columns": 2, "columnPadding": 11, "rowPadding": 6, "padding": 8, "fillColor": "white", "strokeColor": "black", "symbolSize": 219, "symbolStrokeWidth": 1, "symbolType": "M0,0H5", "labelFont": "Liberation Sans", "labelFontSize": 21, "labelColor": "black", "labelOffset": 27, "zindex": 0,
"encode": {"symbols": {"update": {"shape": {"signal": "datum.value === 'US-UK' ? 'M0,0H5M2,-0.45L3,0.45M2,0.45L3,-0.45M2.5,-0.45V0.45' : 'M0,0H5'"}}}}}
}
}
},
{
"data": {"name": "notes"},
"mark": {"type": "point", "shape": "square", "filled": true, "size": 100, "color": "#a3a3a3", "opacity": 1, "strokeWidth": 0},
"encoding": {
"x": {"field": "sqYear", "type": "quantitative", "scale": {"domain": [1870.5, 2003.5], "nice": false, "zero": false}, "axis": null},
"y": {"field": "sqValue", "type": "quantitative", "scale": {"domain": [-2000, 14000], "nice": false, "zero": false},
"axis": {"orient": "left", "title": null, "values": [-2000, 0, 2000, 4000, 6000, 8000, 10000, 12000, 14000], "grid": false, "domain": false, "ticks": true, "tickSize": 6, "tickOpacity": 0, "labelPadding": 48, "labelOffset": -7, "labelFont": "Liberation Sans", "labelFontSize": 18, "labelColor": "black", "labelExpr": "datum.value < 0 ? '-' + format(-datum.value, ',') : format(datum.value, ',')"}}
}
},
{
"data": {"name": "gdp"},
"transform": [{"filter": "datum.series === 'US-UK'"}],
"mark": {"type": "point", "shape": "M-1,-1L1,1M-1,1L1,-1M0,-1L0,1", "filled": false, "size": 49, "stroke": "#333333", "strokeWidth": 1, "opacity": 1},
"encoding": {
"x": {"field": "year", "type": "quantitative", "scale": {"domain": [1870.5, 2003.5], "nice": false, "zero": false}, "axis": null},
"y": {"field": "value", "type": "quantitative", "scale": {"domain": [-2000, 14000], "nice": false, "zero": false}, "axis": null}
}
},
{
"data": {"name": "notes"},
"mark": {"type": "text", "font": "Liberation Sans", "fontSize": 18, "color": "black", "align": "center", "baseline": "middle", "dx": -35, "dy": -6},
"encoding": {
"x": {"field": "labYear", "type": "quantitative", "scale": {"domain": [1870.5, 2003.5], "nice": false, "zero": false}, "axis": null},
"y": {"field": "labValue", "type": "quantitative", "scale": {"domain": [-2000, 14000], "nice": false, "zero": false}, "axis": null},
"text": {"field": "label"}
}
},
{
"data": {"name": "notes"},
"mark": {"type": "text", "font": "Liberation Sans", "fontSize": 18, "color": "black", "align": "center", "baseline": "middle"},
"encoding": {
"x": {"field": "labYear", "type": "quantitative", "scale": {"domain": [1870.5, 2003.5], "nice": false, "zero": false}, "axis": null},
"y": {"field": "labValue", "type": "quantitative", "scale": {"domain": [-2000, 14000], "nice": false, "zero": false}, "axis": null},
"text": {"field": "label"}
}
}
],
"resolve": {"axis": {"y": "independent"}}
}
